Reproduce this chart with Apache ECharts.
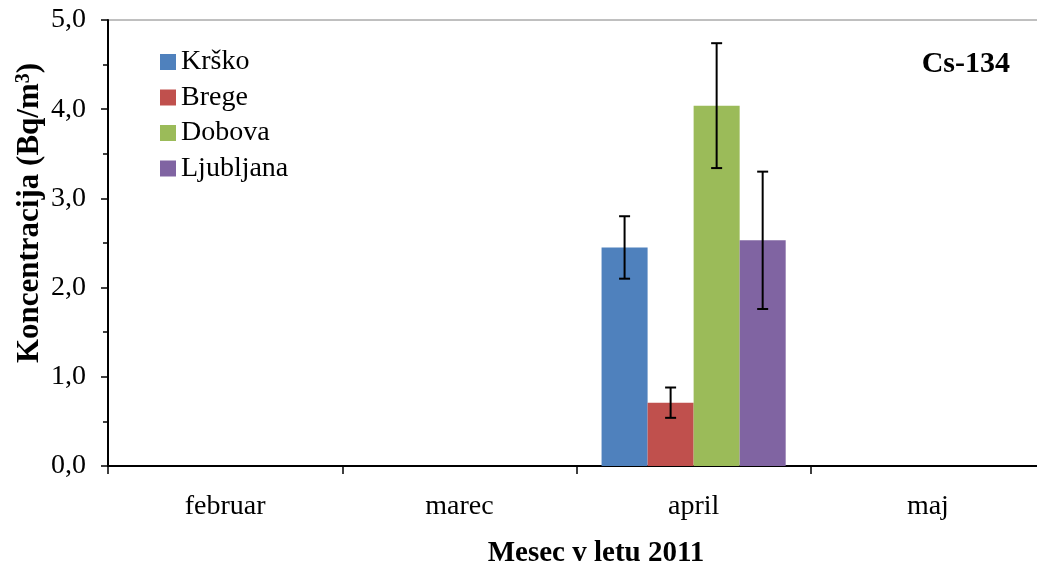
<!DOCTYPE html>
<html><head><meta charset="utf-8">
<script src="https://cdn.jsdelivr.net/npm/echarts@6/dist/echarts.min.js"></script>
<style>html,body{margin:0;padding:0;background:#fff}#c{width:1037px;height:569px}</style>
</head><body><div id="c"></div>
<script>
const categories = ['februar', 'marec', 'april', 'maj'];
const seriesNames = ['Krško', 'Brege', 'Dobova', 'Ljubljana'];
const krsko = [null, null, 2.45, null];
const brege = [null, null, 0.71, null];
const dobova = [null, null, 4.04, null];
const ljubljana = [null, null, 2.53, null];
const krskoErr = [null, null, 0.35, null];
const bregeErr = [null, null, 0.17, null];
const dobovaErr = [null, null, 0.70, null];
const ljubljanaErr = [null, null, 0.77, null];
const yTicks = ['0,0', '1,0', '2,0', '3,0', '4,0', '5,0'];
const colors = ['#4F81BD', '#C0504D', '#9BBB59', '#8064A2'];

const values = [krsko, brege, dobova, ljubljana];
const errs = [krskoErr, bregeErr, dobovaErr, ljubljanaErr];
const CAT_GAP = 0.214;
const FONT = 'Liberation Serif';

const chart = echarts.init(document.getElementById('c'), null, {renderer: 'canvas'});

const barSeries = seriesNames.map((n, i) => ({
  name: n, type: 'bar', data: values[i], barGap: '0%', barCategoryGap: (CAT_GAP * 100) + '%',
  itemStyle: {color: colors[i]}, z: 2
}));

const errData = [];
values.forEach((arr, s) => arr.forEach((v, c) => {
  if (v != null && errs[s][c] != null) errData.push([c, v, errs[s][c], s]);
}));

const errSeries = {
  type: 'custom', z: 5, silent: true,
  renderItem: function (params, api) {
    const c = api.value(0), v = api.value(1), e = api.value(2), s = api.value(3);
    const band = api.size([1, 0])[0];
    const bw = band * (1 - CAT_GAP) / 4;
    const cx = api.coord([c, v])[0] + (s - 1.5) * bw;
    const yt = api.coord([c, v + e])[1];
    const yb = api.coord([c, v - e])[1];
    const hw = 5.5;
    const st = {stroke: '#000', lineWidth: 2};
    return {type: 'group', children: [
      {type: 'line', shape: {x1: cx, y1: yt, x2: cx, y2: yb}, style: st},
      {type: 'line', shape: {x1: cx - hw, y1: yt, x2: cx + hw, y2: yt}, style: st},
      {type: 'line', shape: {x1: cx - hw, y1: yb, x2: cx + hw, y2: yb}, style: st}
    ]};
  },
  data: errData
};

chart.setOption({
  animation: false,
  textStyle: {fontFamily: FONT},
  grid: {left: 108, width: 937, top: 20, bottom: 103, outerBoundsMode: 'none', containLabel: false,
    show: true, borderColor: '#808080', borderWidth: 1, backgroundColor: 'transparent'},
  legend: {
    orient: 'vertical', left: 160, top: 48, padding: 0, itemWidth: 16, itemHeight: 16, itemGap: 7.5,
    data: seriesNames, textStyle: {fontFamily: FONT, fontSize: 28, lineHeight: 28, color: '#000'},
    icon: 'rect'
  },
  xAxis: {
    type: 'category', data: categories,
    axisLine: {lineStyle: {color: '#000', width: 2}},
    axisTick: {show: true, length: 8, lineStyle: {color: '#000', width: 1.5}},
    axisLabel: {fontFamily: FONT, fontSize: 28, color: '#000', margin: 27}
  },
  yAxis: {
    type: 'value', min: 0, max: 5, interval: 1,
    axisLine: {show: true, lineStyle: {color: '#000', width: 2}},
    axisTick: {show: true, length: 7, lineStyle: {color: '#000', width: 1.5}},
    minorTick: {show: true, splitNumber: 2, length: 5, lineStyle: {color: '#000', width: 1.5}},
    splitLine: {show: false},
    axisLabel: {fontFamily: FONT, fontSize: 28, color: '#000', margin: 22,
      formatter: function (v) { return yTicks[Math.round(v)]; }}
  },
  graphic: [
    {type: 'text', x: 30, y: 213, rotation: Math.PI / 2,
      style: {text: 'Koncentracija (Bq/m{sup|3})', fontFamily: FONT, fontSize: 31, fontWeight: 'bold', fill: '#000',
        align: 'center', verticalAlign: 'middle',
        rich: {sup: {fontFamily: FONT, fontSize: 20, fontWeight: 'bold', verticalAlign: 'top', padding: [0, 0, 12, 0]}}}},
    {type: 'text', x: 596, y: 554,
      style: {text: 'Mesec v letu 2011', fontFamily: FONT, fontSize: 29, fontWeight: 'bold', fill: '#000', align: 'center', verticalAlign: 'middle'}},
    {type: 'text', x: 1010, y: 64,
      style: {text: 'Cs-134', fontFamily: FONT, fontSize: 30, fontWeight: 'bold', fill: '#000', align: 'right', verticalAlign: 'middle'}}
  ],
  series: barSeries.concat([errSeries])
});
</script></body></html>
